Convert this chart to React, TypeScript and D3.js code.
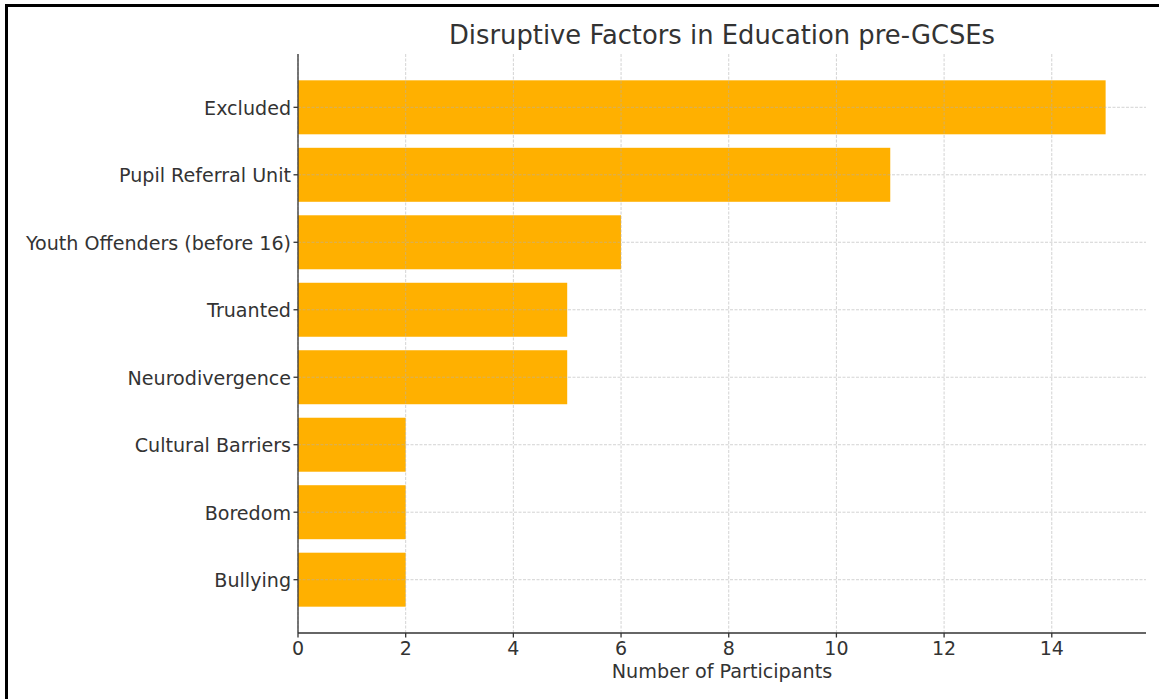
import React from "react";
import * as d3 from "d3";

const categories = [
  "Excluded",
  "Pupil Referral Unit",
  "Youth Offenders (before 16)",
  "Truanted",
  "Neurodivergence",
  "Cultural Barriers",
  "Boredom",
  "Bullying",
];
const values = [15, 11, 6, 5, 5, 2, 2, 2];
const xTicks = [0, 2, 4, 6, 8, 10, 12, 14];
const title = "Disruptive Factors in Education pre-GCSEs";
const xLabel = "Number of Participants";

const W = 1159;
const H = 699;
const left = 298;
const right = 1146;
const top = 54;
const bottom = 633;
const FONT = "'DejaVu Sans', sans-serif";
const TEXT = "#333333";
const BAR = "#ffb000";

export default function App() {
  const x = d3.scaleLinear().domain([0, 15.75]).range([left, right]);
  // matplotlib barh: categories at 0..7 with 0.8 height, 5% margins
  const y = d3.scaleLinear().domain([-0.79, 7.79]).range([top, bottom]);
  const bh = y(0.4) - y(-0.4);

  return (
    <svg
      width={W}
      height={H}
      style={{ position: "absolute", left: 0, top: 0, background: "#fff" }}
    >
      <rect x={0} y={0} width={W} height={H} fill="#fff" />
      {/* frame */}
      <rect x={6.5} y={5.5} width={W + 20} height={H + 20} fill="none" stroke="#000" strokeWidth={3} />

      {/* bars */}
      {values.map((v, i) => (
        <rect
          key={categories[i]}
          x={x(0)}
          y={y(i) - bh / 2}
          width={x(v) - x(0)}
          height={bh}
          fill={BAR}
        />
      ))}

      {/* grid */}
      <g stroke="#b0b0b0" strokeOpacity={0.7} strokeWidth={0.8} strokeDasharray="3,1.5">
        {xTicks.map((t) => (
          <line key={"gx" + t} x1={x(t)} x2={x(t)} y1={top} y2={bottom} />
        ))}
        {categories.map((c, i) => (
          <line key={"gy" + c} x1={left} x2={right} y1={y(i)} y2={y(i)} />
        ))}
      </g>

      {/* axes */}
      <g stroke={TEXT} strokeWidth={1.3}>
        <line x1={left} x2={left} y1={top} y2={bottom} />
        <line x1={left} x2={right} y1={bottom} y2={bottom} />
        {xTicks.map((t) => (
          <line key={"tx" + t} x1={x(t)} x2={x(t)} y1={bottom} y2={bottom + 4.5} />
        ))}
        {categories.map((c, i) => (
          <line key={"ty" + c} x1={left - 4.5} x2={left} y1={y(i)} y2={y(i)} />
        ))}
      </g>

      <g fontFamily={FONT} fill={TEXT}>
        {xTicks.map((t) => (
          <text key={"lx" + t} x={x(t)} y={655} textAnchor="middle" fontSize={19}>
            {t}
          </text>
        ))}
        {categories.map((c, i) => (
          <text key={"ly" + c} x={left - 7} y={y(i) + 7.5} textAnchor="end" fontSize={19.1}>
            {c}
          </text>
        ))}
        <text x={(left + right) / 2} y={678} textAnchor="middle" fontSize={19.2}>
          {xLabel}
        </text>
        <text x={(left + right) / 2} y={44} textAnchor="middle" fontSize={25.8}>
          {title}
        </text>
      </g>
    </svg>
  );
}
